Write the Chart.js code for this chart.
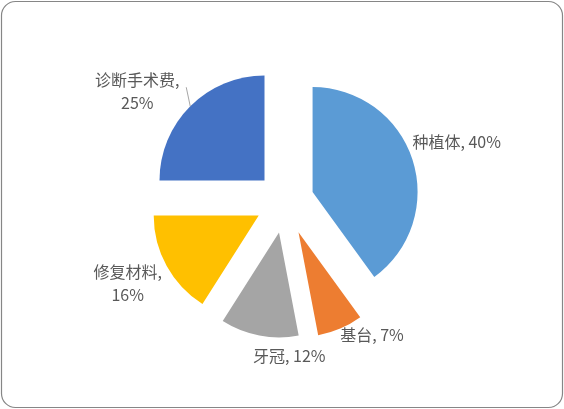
<!DOCTYPE html>
<html>
<head>
<meta charset="utf-8">
<script src="https://cdn.jsdelivr.net/npm/chart.js@4.4.1/dist/chart.umd.min.js"></script>
<style>
  html, body { margin: 0; padding: 0; background: #fff; }
  #wrap { position: relative; width: 564px; height: 409px; }
</style>
</head>
<body>
<div id="wrap"><canvas id="c" width="564" height="409"></canvas></div>
<script>
const categories = ['种植体', '基台', '牙冠', '修复材料', '诊断手术费'];
const shares = [40, 7, 12, 16, 25];
const colors = ['#5B9BD5', '#ED7D31', '#A5A5A5', '#FFC000', '#4472C4'];

// explosion distance (px) per slice
const explode = [29, 34, 32, 30, 29];
// label lines and their placement relative to the slice's outer edge midpoint
const labelLayout = [
  { lines: c => [c.name + ', ' + c.pct + '%'], dx: 0, dy: -18, align: 'left' },
  { lines: c => [c.name + ', ' + c.pct + '%'], dx: 0, dy: 6, align: 'left' },
  { lines: c => [c.name + ', ' + c.pct + '%'], dx: 30, dy: 20, align: 'center' },
  { lines: c => [c.name + ',', c.pct + '%'], dx: -39, dy: 6, align: 'center' },
  { lines: c => [c.name + ',', c.pct + '%'], dx: -53, dy: -26, align: 'center', leader: [-4, -19] }
];

const frame = {
  id: 'frame',
  beforeDraw(chart) {
    const ctx = chart.ctx;
    ctx.save();
    ctx.fillStyle = '#fff';
    ctx.fillRect(0, 0, chart.width, chart.height);
    ctx.beginPath();
    ctx.roundRect(1.5, 1.5, chart.width - 3, chart.height - 3, 14);
    ctx.strokeStyle = '#868686';
    ctx.lineWidth = 1.2;
    ctx.stroke();
    ctx.restore();
  }
};

// draw each arc element translated outward along its bisector
const exploded = {
  id: 'exploded',
  beforeDatasetDraw(chart, args) {
    const ctx = chart.ctx;
    const meta = args.meta;
    meta.data.forEach((arc, i) => {
      const mid = (arc.startAngle + arc.endAngle) / 2;
      ctx.save();
      ctx.translate(Math.cos(mid) * explode[i], Math.sin(mid) * explode[i]);
      arc.draw(ctx);
      ctx.restore();
    });
    return false;
  }
};

const labels = {
  id: 'sliceLabels',
  afterDraw(chart) {
    const ctx = chart.ctx;
    const meta = chart.getDatasetMeta(0);
    ctx.save();
    ctx.font = '16px "Noto Sans CJK SC", "Microsoft YaHei", sans-serif';
    ctx.fillStyle = '#595959';
    ctx.textBaseline = 'middle';
    meta.data.forEach((arc, i) => {
      const mid = (arc.startAngle + arc.endAngle) / 2;
      const t = explode[i] + arc.outerRadius;
      const px = arc.x + Math.cos(mid) * t;
      const py = arc.y + Math.sin(mid) * t;
      const L = labelLayout[i];
      if (L.leader) {
        ctx.beginPath();
        ctx.strokeStyle = '#a6a6a6';
        ctx.lineWidth = 1;
        ctx.moveTo(px, py);
        ctx.lineTo(px + L.leader[0], py + L.leader[1]);
        ctx.stroke();
      }
      ctx.textAlign = L.align;
      const lines = L.lines({ name: categories[i], pct: shares[i] });
      lines.forEach((s, k) => {
        ctx.fillText(s, px + L.dx, py + L.dy + k * 23);
      });
    });
    ctx.restore();
  }
};

new Chart(document.getElementById('c'), {
  type: 'pie',
  data: {
    labels: categories,
    datasets: [{
      data: shares,
      backgroundColor: colors,
      borderWidth: 0,
      hoverOffset: 0
    }]
  },
  options: {
    responsive: false,
    animation: false,
    radius: 105,
    layout: { padding: { left: 26, right: 20, top: 20, bottom: 27 } },
    plugins: { legend: { display: false }, tooltip: { enabled: false } },
    events: []
  },
  plugins: [frame, exploded, labels]
});
</script>
</body>
</html>
